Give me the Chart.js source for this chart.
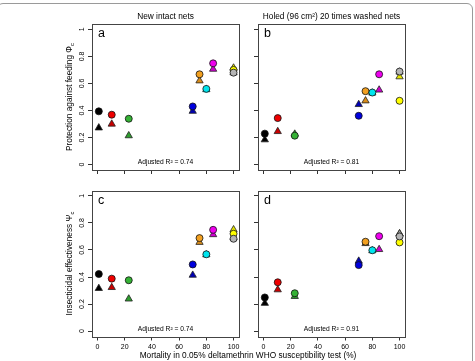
<!DOCTYPE html>
<html>
<head>
<meta charset="utf-8">
<script src="https://cdn.jsdelivr.net/npm/chart.js@4.4.0/dist/chart.umd.min.js"></script>
<style>
    body { margin: 0; background: #fff; }
    #wrap { position: relative; width: 475px; height: 361px; overflow: hidden; }
    #frame { position: absolute; left: -3px; top: 3px; width: 476px; height: 370px; border: 1px solid #9a9a9a; border-radius: 6px; box-sizing: border-box; }
    canvas { position: absolute; left: 0; top: 0; }
</style>
</head>
<body>
<div id="wrap">
    <div id="frame"></div>
    <canvas id="chartA" width="475" height="361"></canvas>
    <canvas id="chartB" width="475" height="361"></canvas>
    <canvas id="chartC" width="475" height="361"></canvas>
    <canvas id="chartD" width="475" height="361"></canvas>
</div>
<script>
// mortality in WHO test (%) for each strain
var mortality = [1, 10.5, 23, 70, 75, 80, 85, 100, 100];

// protection against feeding, circles / triangles
var protNewCircle = [0.394, 0.369, 0.339, 0.43, 0.668, 0.56, 0.749, 0.70, 0.68];
var protNewTriangle = [0.272, 0.30, 0.214, 0.395, 0.62, 0.555, 0.706, 0.715, 0.68];
var protHoledCircle = [0.229, 0.344, 0.214, 0.361, 0.543, 0.533, 0.668, 0.472, 0.688];
var protHoledTriangle = [0.184, 0.245, 0.226, 0.445, 0.472, 0.53, 0.552, 0.65, 0.685];

// insecticidal effectiveness, circles / triangles
var insNewCircle = [0.422, 0.388, 0.376, 0.493, 0.688, 0.568, 0.749, 0.72, 0.683];
var insNewTriangle = [0.316, 0.323, 0.238, 0.414, 0.657, 0.565, 0.714, 0.75, 0.69];
var insHoledCircle = [0.249, 0.361, 0.28, 0.488, 0.661, 0.598, 0.702, 0.656, 0.70];
var insHoledTriangle = [0.206, 0.306, 0.257, 0.518, 0.648, 0.595, 0.604, 0.72, 0.72];

var xTicks = [0, 20, 40, 60, 80, 100];
var xTickLabels = ['0', '20', '40', '60', '80', '100'];
var yTicks = [0, 0.2, 0.4, 0.6, 0.8, 1];
var yTickLabels = ['0', '0.2', '0.4', '0.6', '0.8', '1'];

var circleColors = ['#000000', '#ee0000', '#35b235', '#0000dd', '#f2a020', '#00e5ee', '#ee00ee', '#ffff00', '#b4b4b4'];
var triangleColors = ['#000000', '#c80000', '#2e9e2e', '#0000b4', '#d88c1a', '#00c5cd', '#cd00cd', '#e5e500', '#a0a0a0'];

var FONT = '"Liberation Sans", Arial, sans-serif';

function points(values) {
    return mortality.map(function(m, i) {
        return { x: m, y: values[i] };
    });
}

function drawYTitle(ctx, text, sub, x, y) {
    ctx.save();
    ctx.translate(x, y);
    ctx.rotate(-Math.PI / 2);
    ctx.font = '8.3px ' + FONT;
    var w1 = ctx.measureText(text).width;
    ctx.font = '6px ' + FONT;
    var w2 = ctx.measureText(sub).width;
    var start = -(w1 + w2) / 2;
    ctx.textAlign = 'left';
    ctx.textBaseline = 'middle';
    ctx.font = '8.3px ' + FONT;
    ctx.fillText(text, start, 0);
    ctx.font = '6px ' + FONT;
    ctx.fillText(sub, start + w1, 2.5);
    ctx.restore();
}

var panelText = {
    id: 'panelText',
    afterDraw: function(chart, args, opts) {
        var ctx = chart.ctx;
        var a = chart.chartArea;
        var cx = (a.left + a.right) / 2;
        ctx.save();
        ctx.strokeStyle = '#444';
        ctx.lineWidth = 1;
        ctx.strokeRect(Math.round(a.left) + 0.5, Math.round(a.top) + 0.5,
            Math.round(a.right) - Math.round(a.left), Math.round(a.bottom) - Math.round(a.top));
        ctx.fillStyle = '#000';
        ctx.textBaseline = 'middle';

        ctx.textAlign = 'left';
        ctx.font = '12.5px ' + FONT;
        ctx.fillText(opts.letter, a.left + 6, a.top + 10);

        ctx.textAlign = 'center';
        ctx.font = '6.7px ' + FONT;
        ctx.fillText(opts.r2, cx, a.bottom - 7.5);

        if (opts.colTitle) {
            ctx.font = '8.3px ' + FONT;
            ctx.fillText(opts.colTitle, cx, a.top - 7);
        }
        if (opts.xTitle) {
            ctx.font = '8.3px ' + FONT;
            ctx.fillText(opts.xTitle, 248, 356);
        }
        ctx.restore();
        if (opts.yTitle) {
            drawYTitle(ctx, opts.yTitle, 'c', 70, (a.top + a.bottom) / 2);
        }
    }
};

function makeChart(id, circleVals, triangleVals, pad, showX, showY, text) {
    var ctx = document.getElementById(id).getContext('2d');
    return new Chart(ctx, {
        type: 'scatter',
        data: {
            datasets: [{
                label: 'circles',
                data: points(circleVals),
                pointStyle: 'circle',
                pointRadius: 3.5,
                pointBackgroundColor: circleColors,
                pointBorderColor: '#111',
                pointBorderWidth: 0.8,
                order: 1
            }, {
                label: 'triangles',
                data: points(triangleVals),
                pointStyle: 'triangle',
                pointRadius: 4.2,
                pointBackgroundColor: triangleColors,
                pointBorderColor: '#222',
                pointBorderWidth: 0.8,
                order: 2
            }]
        },
        options: {
            responsive: false,
            animation: false,
            devicePixelRatio: 1,
            events: [],
            layout: { padding: pad },
            plugins: {
                legend: { display: false },
                tooltip: { enabled: false },
                panelText: text
            },
            scales: {
                x: {
                    type: 'linear',
                    min: -4,
                    max: 104,
                    afterBuildTicks: function(s) {
                        s.ticks = xTicks.map(function(v) { return { value: v }; });
                    },
                    afterFit: function(s) { s.height = 20; },
                    grid: { display: true, drawOnChartArea: false, drawTicks: true, tickLength: 4, color: '#333' },
                    border: { display: false },
                    ticks: {
                        display: showX,
                        autoSkip: false,
                        maxRotation: 0,
                        padding: 2,
                        color: '#000',
                        font: { family: FONT, size: 7 },
                        callback: function(v, i) { return xTickLabels[i]; }
                    }
                },
                y: {
                    type: 'linear',
                    min: -0.04,
                    max: 1.04,
                    afterBuildTicks: function(s) {
                        s.ticks = yTicks.map(function(v) { return { value: v }; });
                    },
                    afterFit: function(s) { s.width = 20; },
                    grid: { display: true, drawOnChartArea: false, drawTicks: true, tickLength: 4, color: '#333' },
                    border: { display: false },
                    ticks: {
                        display: showY,
                        minRotation: 90,
                        maxRotation: 90,
                        crossAlign: 'center',
                        padding: 1,
                        color: '#000',
                        font: { family: FONT, size: 7 },
                        callback: function(v, i) { return yTickLabels[i]; }
                    }
                }
            }
        },
        plugins: [panelText]
    });
}

makeChart('chartA', protNewCircle, protNewTriangle,
    { left: 72, top: 24, right: 236, bottom: 171 }, false, true,
    { letter: 'a', r2: 'Adjusted R² = 0.74', colTitle: 'New intact nets', yTitle: 'Protection against feeding Φ' });

makeChart('chartB', protHoledCircle, protHoledTriangle,
    { left: 238, top: 24, right: 70, bottom: 171 }, false, false,
    { letter: 'b', r2: 'Adjusted R² = 0.81', colTitle: 'Holed (96 cm²) 20 times washed nets' });

makeChart('chartC', insNewCircle, insNewTriangle,
    { left: 72, top: 190.5, right: 236, bottom: 4.5 }, true, true,
    { letter: 'c', r2: 'Adjusted R² = 0.74', yTitle: 'Insecticidal effectiveness Ψ' });

makeChart('chartD', insHoledCircle, insHoledTriangle,
    { left: 238, top: 190.5, right: 70, bottom: 4.5 }, true, false,
    { letter: 'd', r2: 'Adjusted R² = 0.91', xTitle: 'Mortality in 0.05% deltamethrin WHO susceptibility test (%)' });
</script>
</body>
</html>
